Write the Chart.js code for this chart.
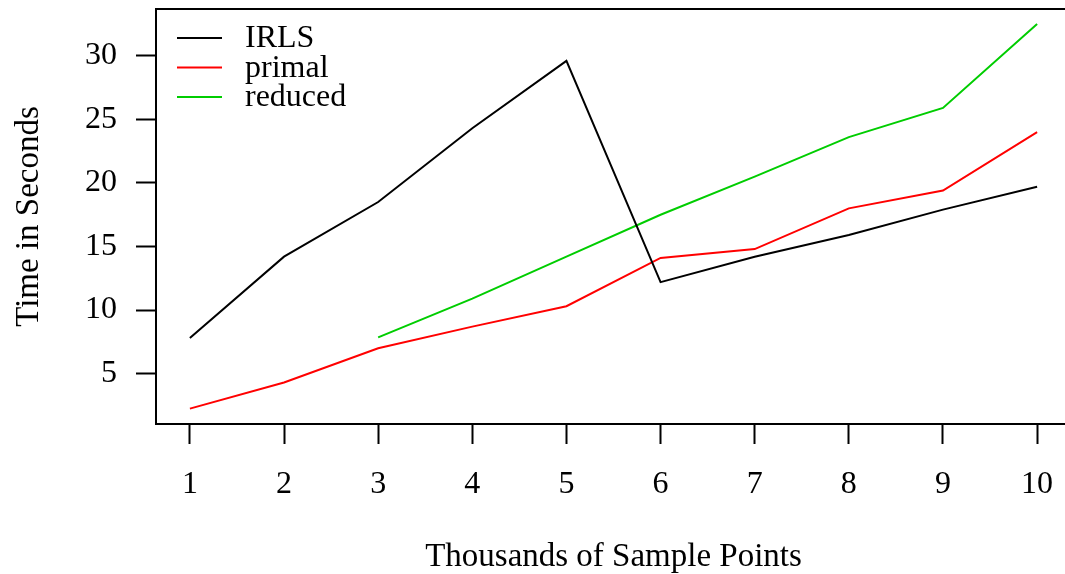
<!DOCTYPE html>
<html>
<head>
<meta charset="utf-8">
<script src="https://cdn.jsdelivr.net/npm/chart.js@4"></script>
<style>
  html, body { margin: 0; padding: 0; background: #fff; overflow: hidden; }
  canvas { display: block; }
</style>
</head>
<body>
<canvas id="chart" width="1080" height="574"></canvas>
<script>
// thousands of sample points
var sizes = [1, 2, 3, 4, 5, 6, 7, 8, 9, 10];
// run times in seconds
var irls = [7.8, 14.2, 18.5, 24.3, 29.6, 12.2, 14.2, 15.9, 17.9, 19.7];
var primal = [2.25, 4.3, 7.0, 8.7, 10.3, 14.1, 14.8, 18.0, 19.4, 24.0];
var reduced = [null, null, 7.85, 10.9, 14.2, 17.5, 20.5, 23.6, 25.9, 32.5];

var xTicks = [1, 2, 3, 4, 5, 6, 7, 8, 9, 10];
var yTicks = [5, 10, 15, 20, 25, 30];

var serif = '"Liberation Serif", "Times New Roman", serif';
var font = { family: serif, size: 32 };

// box around the plot region
var boxPlugin = {
    id: 'box',
    afterDraw: function (chart) {
        var a = chart.chartArea, c = chart.ctx;
        c.save();
        c.strokeStyle = '#000';
        c.lineWidth = 2;
        c.strokeRect(a.left, a.top, a.right - a.left, a.bottom - a.top);
        c.restore();
    }
};

// plain legend in the top left corner, no frame
var legendPlugin = {
    id: 'plainLegend',
    afterDraw: function (chart) {
        var a = chart.chartArea, c = chart.ctx;
        c.save();
        c.font = '32px ' + serif;
        c.textBaseline = 'middle';
        c.fillStyle = '#000';
        chart.data.datasets.forEach(function (ds, i) {
            var y = a.top + 29 + i * 29.5;
            c.strokeStyle = ds.borderColor;
            c.lineWidth = 2;
            c.beginPath();
            c.moveTo(a.left + 21, y);
            c.lineTo(a.left + 66, y);
            c.stroke();
            c.fillText(ds.label, a.left + 89, y + 1);
        });
        c.restore();
    }
};

var ctx = document.getElementById('chart').getContext('2d');
var chart = new Chart(ctx, {
    type: 'line',
    data: {
        labels: sizes,
        datasets: [
            { label: 'IRLS', data: irls, borderColor: '#000000' },
            { label: 'primal', data: primal, borderColor: '#ff0000' },
            { label: 'reduced', data: reduced, borderColor: '#00cd00' }
        ]
    },
    options: {
        responsive: false,
        animation: false,
        devicePixelRatio: 1,
        layout: { padding: { top: 9, right: 9, left: 0, bottom: 0 } },
        elements: {
            line: { borderWidth: 2, tension: 0, fill: false },
            point: { radius: 0, hoverRadius: 0 }
        },
        plugins: {
            legend: { display: false },
            tooltip: { enabled: false }
        },
        scales: {
            x: {
                type: 'linear',
                min: 0.64,
                max: 10.36,
                afterBuildTicks: function (s) {
                    s.ticks = xTicks.map(function (v) { return { value: v }; });
                },
                afterFit: function (s) {
                    s.height = 150;
                    s.paddingLeft = 0;
                    s.paddingRight = 0;
                },
                border: { display: false },
                grid: {
                    drawOnChartArea: false,
                    drawTicks: true,
                    tickLength: 20,
                    tickWidth: 2,
                    tickColor: '#000'
                },
                ticks: {
                    color: '#000',
                    font: font,
                    padding: 21,
                    maxRotation: 0,
                    autoSkip: false
                },
                title: {
                    display: true,
                    text: 'Thousands of Sample Points',
                    color: '#000',
                    font: { family: serif, size: 33 },
                    padding: { top: 0, bottom: -3 }
                }
            },
            y: {
                min: 1.04,
                max: 33.68,
                afterBuildTicks: function (s) {
                    s.ticks = yTicks.map(function (v) { return { value: v }; });
                },
                afterFit: function (s) {
                    s.width = 156;
                    s.paddingTop = 0;
                    s.paddingBottom = 0;
                },
                border: { display: false },
                grid: {
                    drawOnChartArea: false,
                    drawTicks: true,
                    tickLength: 20,
                    tickWidth: 2,
                    tickColor: '#000'
                },
                ticks: {
                    color: '#000',
                    font: font,
                    padding: 19
                },
                title: {
                    display: true,
                    text: 'Time in Seconds',
                    color: '#000',
                    font: { family: serif, size: 33 },
                    padding: { top: 10, bottom: 0 }
                }
            }
        }
    },
    plugins: [boxPlugin, legendPlugin]
});
</script>
</body>
</html>
